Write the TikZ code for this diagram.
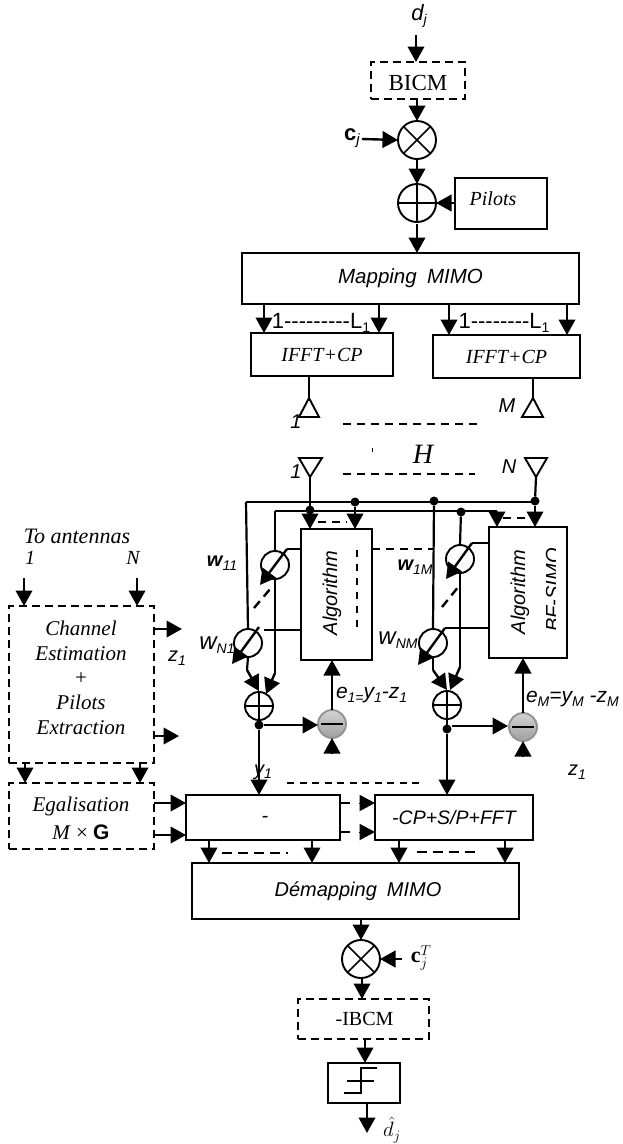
\documentclass[tikz,border=0pt]{standalone}
\usepackage{fontspec}
\setmainfont{Liberation Serif}
\setsansfont{Liberation Sans}
\usetikzlibrary{arrows.meta,calc}
\newcommand\fs[1]{\fontsize{#1}{#1}\selectfont}
\newcommand\lowt[1]{\raisebox{-.35ex}{\fs{14}#1}}
% name, style, x1, y1, x2, y2, text
\newcommand\bx[7]{\node[#2,minimum width={#5-#3},minimum height={#6-#4}] (#1) at ({(#3+#5)/2},{(#4+#6)/2}) {#7};}
\tikzset{
  every node/.style={inner sep=0pt,outer sep=0pt},
  ln/.style={line width=2.2pt},
  thin ln/.style={line width=1.6pt},
  arr/.style={line width=2.4pt,-{Triangle[width=16.5pt,length=15.5pt]},shorten >=0pt},
  solidbox/.style={draw,line width=1.9pt},
  dashbox/.style={draw,line width=1.9pt,dash pattern=on 8pt off 5pt},
  dashln/.style={line width=2.1pt,dash pattern=on 8pt off 6pt},
  opc/.style={circle,draw,line width=1.9pt,minimum size=38pt},
  opd/.style={circle,draw,line width=1.9pt,minimum size=28pt},
  wc/.style={circle,draw,line width=1.9pt,minimum size=28pt,fill=white},
  subc/.style={circle,draw=gray!85,line width=1.9pt,minimum size=28pt,top color=gray!35,middle color=white,bottom color=gray!75},
  dotn/.style={circle,fill=black,minimum size=9pt},
  sit/.style={font=\sffamily\itshape\fs{20}},
  rit/.style={font=\itshape\fs{20}},
  ant/.style={draw,line width=1.9pt,line join=miter},
}
\begin{document}
\begin{tikzpicture}[x=1pt,y=-1pt]
\useasboundingbox (0,0) rectangle (622,1144);
% ---------- transmitter
\node[sit,font=\sffamily\itshape\fs{22}] (dj) at (419,16) {d\raisebox{-.35ex}{\fs{14}j}};
\coordinate (djin) at (416,35);
\bx{bicm}{dashbox}{371}{62}{465}{99}{}
\node[font=\fs{23}] (bicmt) at (418,83) {BICM};
\node[opc] (mul) at (417,140) {};
\draw[thin ln] (mul.45)--(mul.225) (mul.135)--(mul.315);
\node[opc] (add) at (417,203) {};
\draw[thin ln] (add.north)--(add.south) (add.west)--(add.east);
\bx{pil}{solidbox}{455}{178}{547}{229}{}
\node[rit] (pilt) at (493,199) {Pilots};
\bx{map}{solidbox}{242}{253}{579}{304}{\sffamily\itshape\fs{20.5}Mapping\hspace{.5em}MIMO}
\node[font=\sffamily\fs{22}] (cj) at (352,138) {\textbf{c}\raisebox{-.35ex}{\fs{15}\itshape j}};
\coordinate (cjo) at (362,139);
\draw[arr] (djin)--(bicm.north -| djin);
\draw[arr] (bicm.south -| mul)--(mul.north);
\draw[arr] (cjo)--(mul.west);
\draw[arr] (mul.south)--(add.north);
\draw[arr] (pil.west |- add)--(add.east);
\coordinate (addo) at (417,224);
\draw[arr] (addo)--(map.north -| addo);
% IFFT
\bx{ifa}{solidbox}{251}{333}{393}{376}{\itshape\fs{20}IFFT+CP}
\bx{ifb}{solidbox}{433}{335}{580}{378}{\itshape\fs{20}IFFT+CP}
\foreach \nm/\xx/\tg in {a/264/ifa,b/379/ifa,c/449/ifb,d/567/ifb}{
  \coordinate (m\nm) at (\xx,304);
  \draw[arr] (m\nm)--(\tg.north -| m\nm);
}
\node[font=\sffamily\fs{22}] (la) at (321,323) {1-{}-{}-{}-{}-{}-{}-{}-{}-L\lowt{1}};
\node[font=\sffamily\fs{22}] (lb) at (504,323) {1-{}-{}-{}-{}-{}-{}-{}-L\lowt{1}};
% antennas tx
\coordinate (ta) at (309,398);
\coordinate (tb) at (533,398);
\draw[ln] (ifa.south -| ta)--(ta);
\draw[ln] (ifb.south -| tb)--(tb);
\draw[ant] (ta)--(299,417)--(319,417)--cycle;
\draw[ant] (tb)--(522,417)--(543,417)--cycle;
\node[sit] (t1) at (296,422) {1};
\node[sit] (tm) at (507,406) {M};
% channel
\coordinate (hta) at (343,424); \coordinate (htb) at (479,424);
\coordinate (hba) at (343,474); \coordinate (hbb) at (475,474);
\draw[dashln] (hta)--(htb);
\draw[dashln] (hba)--(hbb);
\node[font=\itshape\fs{28}] (h) at (423,454) {H};
\coordinate (ha) at (372.5,448); \coordinate (hb) at (372.5,452);
\draw[line width=1pt] (ha)--(hb);
% rx antennas
\coordinate (ra) at (310,477); \coordinate (rb) at (536,477);
\draw[ant] (ra)--(299,458)--(322,458)--cycle;
\draw[ant] (rb)--(525,458)--(547,458)--cycle;
\node[sit] (r1) at (296,472) {1};
\node[sit] (rn) at (509,467) {N};
% algorithm boxes
\bx{alga}{solidbox}{301}{529}{372}{660}{}
\bx{algb}{solidbox}{489}{527}{567}{658}{}
\node[sit,rotate=90] (algat) at (332,593) {Algorithm};
\node[sit,rotate=90] (algbt) at (520,592) {Algorithm};
\begin{scope}
\clip (535,540) rectangle (555.5,640);
\node[sit,rotate=90] (algbs) at (553,590) {BF-SIMO};
\end{scope}
\coordinate (sa) at (357,550); \coordinate (sb) at (357,632);
\draw[line width=1.6pt,dash pattern=on 7pt off 7pt] (sa)--(sb);
% feed lines
\coordinate (h1l) at (246,502); \coordinate (h1r) at (535,502);
\coordinate (h2l) at (275,511); \coordinate (h2r) at (497,511);
\node[dotn] (d1) at (310,510) {};
\node[dotn] (d2) at (355,502) {};
\node[dotn] (d3) at (434,501) {};
\node[dotn] (d4) at (461,512) {};
\node[dotn] (d5) at (535,501) {};
\draw[ln] (h1l)--(h1r);
\draw[ln] (h2l)--(h2r);
\draw[ln] (ra)--(d1);
\draw[ln] (rb)--(d5);
\draw[arr] (d1)--(alga.north -| d1);
\draw[arr] (d2)--(alga.north -| d2);
\draw[arr] (h2r)--(algb.north -| h2r);
\draw[arr] (d5)--(algb.north -| d5);
\coordinate (dqa) at (318,522); \coordinate (dqb) at (347,522);
\coordinate (dqc) at (503,518); \coordinate (dqd) at (526,518);
\draw[dashln] (dqa)--(dqb);
\draw[dashln] (dqc)--(dqd);
% weights left
\node[wc] (w11) at (275,565) {};
\node[wc] (wn1) at (248,643) {};
\node[opd] (pa) at (259,706) {};
\draw[thin ln] (pa.north)--(pa.south) (pa.west)--(pa.east);
\draw[ln] (h1l)--(wn1.north);
\draw[ln] (h2l)--(w11.north);
\coordinate (w11e) at (287,549);
\coordinate (w11t) at (260,585);
\coordinate (wn1e) at (259,627);
\coordinate (wn1t) at (232,664);
\draw[arr] (w11e)--(w11t);
\draw[arr] (wn1e)--(wn1t);
\draw[thin ln] (w11e)--(alga.west |- w11e);
\coordinate (wn1f) at (264,630);
\draw[thin ln] (wn1f)--(alga.west |- wn1f);
\coordinate (dga) at (254,608); \coordinate (dgb) at (271,588);
\draw[line width=2.4pt,dash pattern=on 9pt off 6pt] (dga)--(dgb);
\coordinate (ka) at (275,673); \coordinate (kat) at (266,694);
\coordinate (kb) at (247,670); \coordinate (kbt) at (259,691);
\draw[ln] (w11.south)--(ka);
\draw[arr] (ka)--(kat);
\draw[ln] (wn1.south)--(kb);
\draw[arr] (kb)--(kbt);
% weights right
\node[wc] (w1m) at (460,559) {};
\node[wc] (wnm) at (433,643) {};
\node[opd] (pb) at (447,705) {};
\draw[thin ln] (pb.north)--(pb.south) (pb.west)--(pb.east);
\draw[ln] (d3)--(wnm.north);
\draw[ln] (d4)--(w1m.north);
\coordinate (w1me) at (472,543);
\coordinate (w1mt) at (446,579);
\coordinate (wnme) at (445,628);
\coordinate (wnmt) at (418,665);
\draw[arr] (w1me)--(w1mt);
\draw[arr] (wnme)--(wnmt);
\draw[thin ln] (w1me)--(algb.west |- w1me);
\draw[thin ln] (wnme)--(algb.west |- wnme);
\coordinate (dha) at (442,607); \coordinate (dhb) at (459,586);
\draw[line width=2.4pt,dash pattern=on 9pt off 6pt] (dha)--(dhb);
\coordinate (kc) at (460,667); \coordinate (kct) at (450,690);
\coordinate (kd) at (433,670); \coordinate (kdt) at (447,690);
\draw[ln] (w1m.south)--(kc);
\draw[arr] (kc)--(kct);
\draw[ln] (wnm.south)--(kd);
\draw[arr] (kd)--(kdt);
\draw[dashln] (alga.east |- 0,549)--(d3 |- 0,549);
% subtractors
\node[subc] (sua) at (332,724) {};
\node[subc] (sub) at (523,727) {};
\draw[line width=1.8pt] ($(sua.west)+(3,0)$)--($(sua.east)+(-3,0)$);
\draw[line width=1.8pt] ($(sub.west)+(3,0)$)--($(sub.east)+(-3,0)$);
\node[dotn] (ja) at (259,725) {};
\node[dotn] (jb) at (447,729) {};
\draw[ln] (pa.south)--(ja);
\draw[ln] (pb.south)--(jb);
\draw[arr] (ja)--(sua.west |- ja);
\coordinate (jbe) at (508,726);
\draw[arr] (jb.east |- jbe)--(jbe);
\draw[arr] (sua.north)--(alga.south -| sua);
\draw[arr] (sub.north)--(algb.south -| sub);
\coordinate (sia) at (332,754); \coordinate (sib) at (523,756);
\draw[arr] (sia)--(sua.south);
\draw[arr] (sib)--(sub.south);
% labels
\node[sit] (w11l) at (222,563) {\textbf{w}\lowt{11}};
\node[sit] (wn1l) at (217,645) {\fs{24}w\lowt{N1}};
\node[sit] (w1ml) at (415,567) {\textbf{w}\lowt{1M}};
\node[sit] (wnml) at (398,640) {\fs{24}w\lowt{NM}};
\node[sit,anchor=west] (ea) at (336,695) {\fs{21}e\lowt{1=}y\lowt{1}-z\lowt{1}};
\node[sit,anchor=west] (eb) at (526,699) {\fs{21}e\lowt{M}=y\lowt{M} -z\lowt{M}};
\node[sit] (y1) at (263,772) {y\lowt{1}};
\node[sit] (z1) at (577,772) {z\lowt{1}};
% left boxes
\node[rit,font=\itshape\fs{22}] (toa) at (77,536) {To antennas};
\node[rit] (an1) at (30,558) {1};
\node[rit] (ann) at (133,558) {N};
\coordinate (ca) at (24,578); \coordinate (cb) at (137,578);
\bx{chan}{dashbox}{9}{606}{154}{763}{}
\node[rit,font=\itshape\fs{21}] (c1) at (81,628) {Channel};
\node[rit,font=\itshape\fs{21}] (c2) at (81,654) {Estimation};
\node[rit,font=\itshape\fs{21}] (c3) at (81,679) {+};
\node[rit,font=\itshape\fs{21}] (c4) at (81,702) {Pilots};
\node[rit,font=\itshape\fs{21}] (c5) at (81,728) {Extraction};
\bx{ega}{dashbox}{9}{783}{154}{849}{}
\node[rit,font=\itshape\fs{21}] (e1) at (81,806) {Egalisation};
\node[font=\fs{21}] (e2) at (81,832) {\textit{M} × \textbf{\sffamily G}};
\draw[arr] (ca)--(chan.north -| ca);
\draw[arr] (cb)--(chan.north -| cb);
\coordinate (cga) at (25,763); \coordinate (cgb) at (140,763);
\draw[arr] (cga)--(ega.north -| cga);
\draw[arr] (cgb)--(ega.north -| cgb);
\coordinate (co1) at (154,629); \coordinate (co1t) at (182,629);
\coordinate (co2) at (154,736); \coordinate (co2t) at (179,736);
\draw[arr] (co1)--(co1t);
\draw[arr] (co2)--(co2t);
\begin{scope}
\clip (160,640) rectangle (184.5,675);
\node[sit] (zi) at (177,658) {z\lowt{1}};
\end{scope}
% bottom
\bx{fa}{solidbox}{186}{795}{340}{840}{}
\node[sit] (fat) at (265,819) {-};
\bx{fb}{solidbox}{375}{795}{533}{840}{\sffamily\itshape\fs{19.5}-CP+S/P+FFT}
\bx{dem}{solidbox}{192}{863}{519}{919}{}
\node[sit] (demt) at (358,891) {Démapping\hspace{.5em}MIMO};
\coordinate (eo1) at (154,803); \coordinate (eo2) at (154,835);
\draw[arr] (eo1)--(fa.west |- eo1);
\draw[arr] (eo2)--(fa.west |- eo2);
\draw[arr] (ja)--(fa.north -| ja);
\draw[arr] (jb)--(fb.north -| jb);
\coordinate (yda) at (287,783); \coordinate (ydb) at (422,783);
\draw[line width=1.5pt,dash pattern=on 7pt off 5.5pt] (yda)--(ydb);
\foreach \nm/\yy in {a/803,b/832}{
  \coordinate (g\nm) at (340,\yy);
  \coordinate (q\nm) at (350,\yy);
  \coordinate (r\nm) at (359,\yy);
  \draw[ln] (g\nm)--(q\nm);
  \draw[arr,line width=0pt] (r\nm)--(fb.west |- g\nm);
}
\foreach \nm/\xx/\st in {a/209/fa,b/312/fa,c/399/fb,d/505/fb}{
  \coordinate (o\nm) at (\xx,840);
  \draw[arr] (o\nm)--(dem.north -| o\nm);
}
\coordinate (nda) at (222,853); \coordinate (ndb) at (288,853);
\coordinate (ndc) at (417,852); \coordinate (ndd) at (480,852);
\draw[line width=1.5pt,dash pattern=on 10pt off 6pt] (nda)--(ndb);
\draw[line width=1.5pt,dash pattern=on 10pt off 6pt] (ndc)--(ndd);
% descent
\node[opc] (mub) at (361,959) {};
\draw[thin ln] (mub.45)--(mub.225) (mub.135)--(mub.315);
\draw[arr] (dem.south -| mub)--(mub.north);
\coordinate (ctin) at (402,959);
\draw[arr] (ctin)--(mub.east);
\node[font=\fs{22}] (ct) at (421,958) {$\mathbf{c}_j^T$};
\bx{ibcm}{dashbox}{298}{999}{429}{1039}{\fs{20}\hspace{2pt}-IBCM}
\coordinate (muo) at (362,977);
\draw[arr] (muo)--(ibcm.north -| muo);
\bx{dec}{solidbox}{328}{1063}{400}{1103}{}
\coordinate (ibo) at (365,1039);
\draw[arr] (ibo)--(dec.north -| ibo);
\coordinate (sta) at (344,1093); \coordinate (stb) at (361,1093);
\coordinate (stc) at (361,1068); \coordinate (std) at (377,1068);
\coordinate (ste) at (347,1081); \coordinate (stf) at (374,1081);
\draw[thin ln] (sta)--(stb)--(stc)--(std);
\draw[thin ln] (ste)--(stf);
\coordinate (deo) at (367,1103); \coordinate (dhat) at (367,1133);
\draw[arr] (deo)--(dhat);
\node[font=\fs{20}] (dh) at (392,1130) {$\hat{d}_j$};
\end{tikzpicture}
\end{document}
